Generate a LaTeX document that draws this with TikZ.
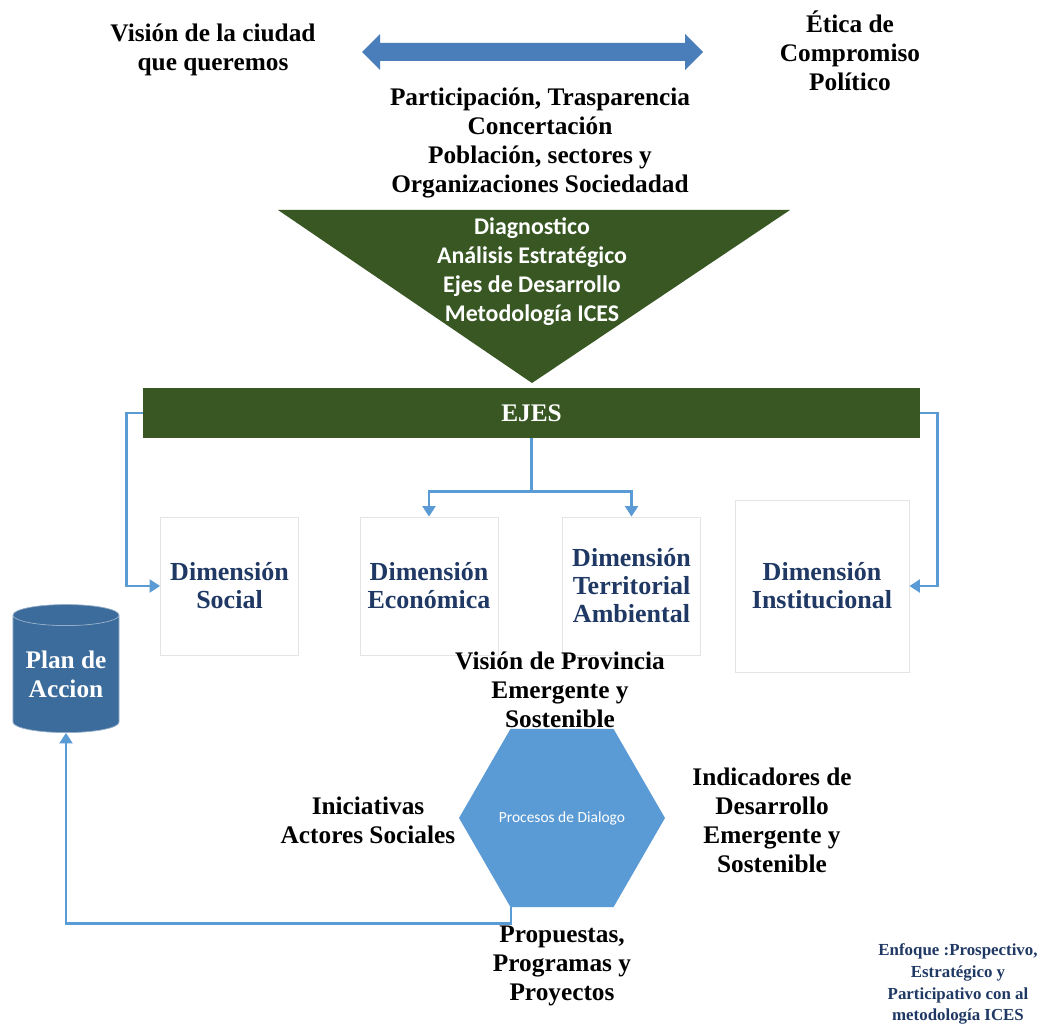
\documentclass[tikz,border=0pt]{standalone}
\usepackage{fontspec}
\setmainfont{Liberation Serif}
\newfontfamily\calfont{Carlito}
\usetikzlibrary{arrows.meta,positioning,calc,shapes.geometric}
\definecolor{navy}{HTML}{1F3864}
\definecolor{forest}{HTML}{385723}
\definecolor{link}{HTML}{5B9BD5}
\definecolor{steel}{HTML}{4A7EBB}
\definecolor{planblue}{HTML}{3C6C9C}
\definecolor{boxline}{HTML}{E4E4E4}
\tikzset{
  lbl/.style={align=center, inner sep=0pt, font=\bfseries\fontsize{18}{20.6}\selectfont},
  greentxt/.style={align=center, inner sep=0pt, text=white,
                   font=\calfont\bfseries\fontsize{17}{20.6}\selectfont},
  dimbox/.style={draw=boxline, fill=white, line width=0.6pt, align=center, inner sep=0pt,
                 text=navy, font=\bfseries\fontsize{18.5}{19.9}\selectfont,
                 minimum width=3.45cm, minimum height=3.45cm},
  enfoque/.style={align=center, inner sep=0pt, text=navy,
                  font=\bfseries\fontsize{12}{15.6}\selectfont},
  conn/.style={-{Triangle[length=2.6mm,width=3.2mm]}, draw=link, line width=2pt}
}

\begin{document}
\begin{tikzpicture}[x=0.025cm, y=-0.025cm]
  \fill[white] (0,0) rectangle (1058,1024);
  \useasboundingbox (0,0) rectangle (1058,1024);

  % top of the page
  \node[lbl] (vision) at (213,50) {Visión de la ciudad\\que queremos};
  \node[lbl] (etica) at (850,51) {Ética de\\Compromiso\\Político};
  \fill[steel] (362,52) -- (380,34) -- (380,43) -- (685,43) -- (685,34) -- (703,52)
    -- (685,70) -- (685,61) -- (380,61) -- (380,70) -- cycle;
  \node[lbl] (partic) at (540,143) {Participación, Trasparencia\\Concertación\\Población, sectores y\\Organizaciones Sociedadad};

  % funnel and axes bar
  \fill[forest] (278,210) -- (790,210) -- (532,383) -- cycle;
  \node[greentxt] (diag) at (532,272) {Diagnostico\\Análisis Estratégico\\Ejes de Desarrollo\\Metodología ICES};
  \node[fill=forest, minimum width=19.425cm, minimum height=1.25cm, inner sep=0pt,
        text=white, font=\bfseries\fontsize{18}{20}\selectfont] (ejes) at (531.5,413) {EJES};

  % dimensions
  \node[dimbox] (social) at (229.5,586) {Dimensión\\Social};
  \node[dimbox] (econ) at (429,586) {Dimensión\\Económica};
  \node[dimbox] (terr) at (631.5,586) {Dimensión\\Territorial\\Ambiental};
  \node[dimbox, minimum width=4.35cm, minimum height=4.3cm] (inst) at (822,586) {Dimensión\\Institucional};

  \draw[conn] (ejes.south) -- ++(0,53) coordinate (split) -| (econ.north);
  \draw[conn] (split) -| (terr.north);
  \draw[conn] (ejes.west) -- ++(-16,0) |- (social.west);
  \draw[conn] (ejes.east) -- ++(17,0) |- (inst.east);

  % plan and dialogue
  \node[cylinder, shape border rotate=90, aspect=0.26, minimum width=2.65cm, minimum height=3.2cm,
        inner sep=0pt, draw=planblue!55!white, line width=0.5pt, cylinder uses custom fill,
        cylinder body fill=planblue, cylinder end fill=planblue, text=white,
        font=\bfseries\fontsize{18}{20.6}\selectfont, align=center] (plan) at (66,674) {Plan de\\Accion};

  \node[lbl] (provincia) at (560,690) {Visión de Provincia\\Emergente y\\Sostenible};
  \node[regular polygon, regular polygon sides=6, minimum size=4.95cm, inner sep=0pt,
        fill=link, text=white, font=\calfont\fontsize{11}{13}\selectfont] (hex) at (562,818) {Procesos de Dialogo};
  \node[lbl] (inic) at (368,820) {Iniciativas\\Actores Sociales};
  \node[lbl] (indic) at (772,820) {Indicadores de\\Desarrollo\\Emergente y\\Sostenible};
  \node[lbl] (propu) at (562,966) {Propuestas,\\Programas y\\Proyectos};

  \draw[conn] ($(hex.south)+(-51,0)$) -- ++(0,16) -| (plan.south);

  \node[enfoque] (enfoque) at (958,984) {Enfoque :Prospectivo,\\Estratégico y\\Participativo con al\\metodología ICES};
\end{tikzpicture}
\end{document}
